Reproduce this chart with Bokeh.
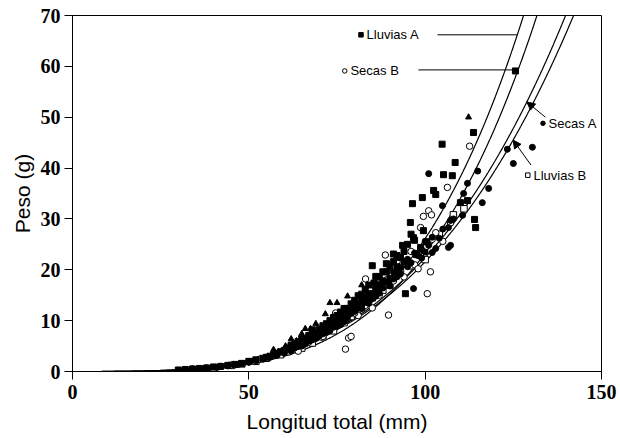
import numpy as np
from bokeh.plotting import figure
from bokeh.models import Range1d, FixedTicker, Label, Arrow, NormalHead
from bokeh.embed import file_html
from bokeh.resources import INLINE

# Length-weight relations W = a * L^b for each season/locality group
grupos = ["Lluvias A", "Secas B", "Secas A", "Lluvias B"]
coef_a = [2.616e-7, 2.327e-7, 3.550e-6, 4.306e-6]
coef_b = [4.0, 4.0, 3.4, 3.35]

x_ticks = [0, 50, 100, 150]
y_ticks = [0, 10, 20, 30, 40, 50, 60, 70]

# Observed specimens: (longitud total mm, peso g)
lluvias_a = [
    (30, 0.3), (32, 0.4), (34, 0.5), (36, 0.6), (38, 0.7), (40, 0.9), (42, 1.0),
    (44, 1.2), (46, 1.4), (48, 1.6), (50, 2.0), (52, 2.3), (54, 2.6), (55, 2.8),
    (57, 3.3), (58, 3.6), (60, 4.1), (61, 4.6), (62, 4.9), (63, 5.3), (64, 5.9),
    (65, 6.4), (66, 6.2), (67, 7.1), (68, 7.6), (69, 7.3), (70, 8.3), (71, 8.0),
    (72, 9.4), (73, 8.9), (74, 10.6), (75, 9.8), (76, 11.7), (77, 10.9), (78, 12.4),
    (79, 13.3), (80, 12.6), (81, 14.9), (82, 13.8), (83, 16.1), (84, 15.3), (85, 20.8),
    (85.5, 17.4), (86, 18.7), (87, 17.0), (88, 19.6), (89, 21.2), (90, 18.3), (91, 23.1),
    (92, 20.6), (93, 22.4), (93.6, 24.8), (94.4, 15.3), (95.8, 29.3), (96.4, 33.0),
    (96.7, 26.3), (97.5, 23.0), (98.7, 24.4), (99.2, 34.2), (99.5, 27.7), (100.5, 25.5),
    (102.4, 35.6), (103, 34.8), (104.8, 44.7), (105.2, 38.7), (107.7, 38.5), (108.5, 41.1),
    (110, 33.2), (112, 33.6), (113.7, 47.0), (114, 29.9), (114.3, 28.3), (125.6, 59.1),
    (56, 3.0), (59, 3.9), (62, 5.2), (64, 5.4), (65, 5.8), (67, 6.6), (68, 8.2),
    (70, 7.6), (71, 9.0), (72, 8.6), (73, 10.0), (74, 9.6), (75, 11.0), (76, 10.4),
    (77, 12.4), (78, 11.6), (79, 12.2), (80, 14.0), (81, 13.2), (82, 15.2), (83, 14.6),
    (84, 17.0), (86, 16.2), (87, 18.6), (88, 17.8), (89, 19.6), (90, 20.6), (91, 21.6),
    (92, 22.8), (94, 23.6), (95, 25.0), (96, 27.0), (97, 25.8),
]
secas_b = [
    (34, 0.5), (38, 0.7), (42, 1.0), (46, 1.3), (50, 1.9), (53, 2.4), (56, 2.9),
    (58, 3.4), (60, 3.8), (62, 4.4), (64, 4.0), (65, 5.2), (67, 5.8), (68, 6.4),
    (70, 7.2), (71, 6.9), (72, 8.2), (73, 8.6), (74.6, 11.5), (75, 9.4), (76, 10.0),
    (77.4, 4.4), (78.3, 6.6), (79, 6.9), (80, 12.1), (81, 11.0), (82, 13.5), (83.1, 18.2),
    (84, 14.2), (85, 12.5), (86, 16.4), (87, 15.0), (88.7, 22.9), (89.6, 11.1), (90, 19.2),
    (91, 17.8), (92, 21.6), (94, 18.6), (95, 22.0), (96, 23.6), (97, 21.0), (98, 20.2),
    (98.7, 28.3), (99.5, 30.5), (100.6, 15.3), (101, 31.6), (101.5, 19.6), (101.8, 30.8),
    (102, 26.0), (103, 27.3), (105, 25.6), (106.3, 36.2), (107.2, 29.2), (112.6, 44.3),
    (66, 6.2), (69, 6.8), (74, 9.0), (77, 10.8), (80, 11.5), (83, 13.0), (85, 15.2),
    (87, 17.2), (89, 18.0), (93, 20.5),
]
secas_a = [
    (38, 0.6), (41, 0.8), (44, 1.1), (47, 1.4), (50, 1.8), (52, 2.1), (54, 2.4),
    (56, 2.8), (58, 3.2), (60, 3.6), (62, 4.0), (63, 4.6), (64, 4.9), (66, 5.4),
    (67, 6.0), (69, 6.5), (70, 7.0), (72, 7.8), (73, 8.3), (75, 9.1), (76, 9.8),
    (77, 10.3), (78, 10.6), (80, 11.8), (81, 12.4), (82, 13.0), (84, 14.2), (85, 15.3),
    (86, 15.6), (87, 16.2), (88, 17.3), (89, 17.6), (90, 18.0), (91, 19.5), (92, 19.8),
    (93, 20.4), (94, 21.5), (95, 22.0), (96.7, 16.3), (97, 23.3), (99, 22.3), (100, 25.6),
    (101, 38.9), (102, 26.4), (103, 24.2), (104.9, 32.6), (105, 28.0), (106.6, 24.4),
    (106.6, 28.3), (107.2, 24.8), (107.2, 29.7), (108, 30.0), (110.6, 30.7), (110.9, 35.0),
    (112, 37.0), (114.9, 39.4), (116.2, 33.2), (118, 36.0), (123.3, 43.7), (125, 40.9),
    (130.4, 44.1),
    (65, 5.0), (66, 5.9), (68, 6.2), (69, 7.2), (70, 7.5), (71, 7.4), (72, 8.4),
    (73, 8.0), (74, 8.7), (75, 9.6), (76, 9.2), (77, 9.8), (78, 11.2), (79, 11.4),
    (80, 12.6), (82, 12.4), (83, 13.6), (84, 13.4), (85, 14.4), (86, 14.8), (87, 15.4),
    (88, 16.4), (90, 16.8), (91, 18.2), (92, 18.6), (93, 19.2), (95, 20.6), (96, 21.4),
    (98, 22.8), (99, 24.0), (100, 23.5), (101, 24.8), (102, 23.4), (104, 26.2),
]
lluvias_b = [
    (40, 0.7), (45, 1.2), (48, 1.5), (52, 2.0), (55, 2.6), (59, 3.3), (61, 3.9),
    (65, 4.6), (68, 5.6), (71, 6.8), (74, 8.0), (77, 9.6), (79, 10.8), (82, 12.6),
    (85, 14.5), (88, 16.0), (90, 17.0), (93, 19.4), (96, 20.8), (98, 23.0), (100, 22.0),
    (104, 27.0), (108, 30.8), (111, 32.0),
]
triangulos = [
    (57, 4.3), (60.4, 5.0), (62, 6.4), (63.5, 6.0), (65, 7.4), (66, 8.4), (66.6, 7.0),
    (67.5, 8.4), (69, 9.4), (71.7, 11.3), (73, 13.5), (75, 13.5),
    (78, 14.8), (82, 17.0), (112.3, 50.0),
]

# Annotation placement (text start, vertical centre) and leader/arrow anchors
etiqueta_L = [83.4, 78.8, 135.0, 130.7]
etiqueta_W = [66.2, 59.1, 48.8, 38.6]
guia_L0 = [103.5, 98.1, 134.1, 130.0]
guia_W0 = [66.2, 59.3, 50.0, 40.6]
guia_W1 = [66.2, 59.3, 53.0, 45.5]

estilos = [
    dict(marker="square", size=6, fill_color="black", line_color="black"),
    dict(marker="circle", size=6.5, fill_color="white", line_color="black", line_width=1),
    dict(marker="circle", size=6, fill_color="black", line_color="black"),
    dict(marker="square", size=6.5, fill_color="white", line_color="black", line_width=1),
]

p = figure(width=620, height=438, x_range=Range1d(0, 150), y_range=Range1d(0, 70),
           output_backend="svg", toolbar_location=None,
           min_border_left=72, min_border_right=19, min_border_top=15,
           min_border_bottom=67)
p.background_fill_color = "white"
p.border_fill_color = "white"
p.outline_line_color = "black"
p.outline_line_width = 1
p.grid.visible = False

p.xaxis.ticker = FixedTicker(ticks=x_ticks)
p.yaxis.ticker = FixedTicker(ticks=y_ticks)
p.xaxis.axis_label = "Longitud total (mm)"
p.yaxis.axis_label = "Peso (g)"
for ax in (p.xaxis[0], p.yaxis[0]):
    ax.major_label_text_font = "Liberation Serif"
    ax.major_label_text_font_style = "bold"
    ax.major_label_text_font_size = "20px"
    ax.major_label_text_color = "black"
    ax.major_tick_in = 0
    ax.major_tick_out = 8
    ax.minor_tick_in = 0
    ax.minor_tick_out = 0
    ax.axis_line_color = "black"
    ax.major_tick_line_color = "black"
    ax.axis_label_text_font = "Liberation Sans"
    ax.axis_label_text_font_style = "normal"
    ax.axis_label_text_font_size = "21px"
    ax.axis_label_text_color = "black"
p.xaxis.major_label_standoff = 5
p.xaxis.axis_label_standoff = 8
p.yaxis.major_label_standoff = 4
p.yaxis.axis_label_standoff = 4

# Fitted curves
L = np.linspace(0.0, 150.0, 1201)
for a, b in zip(coef_a, coef_b):
    p.line(L, a * L ** b, line_color="black", line_width=1.2)

# Specimens
for datos, est in zip([lluvias_b, secas_b, lluvias_a, secas_a],
                      [estilos[3], estilos[1], estilos[0], estilos[2]]):
    p.scatter([d[0] for d in datos], [d[1] for d in datos], **est)
p.scatter([d[0] for d in triangulos], [d[1] for d in triangulos],
          marker="triangle", size=6, fill_color="black", line_color="black")

# Curve labels with leader lines / arrows
for i, nombre in enumerate(grupos):
    a, b = coef_a[i], coef_b[i]
    clave = dict(estilos[i])
    clave["size"] = 4.5
    p.scatter([etiqueta_L[i] - 1.6], [etiqueta_W[i]], **clave)
    p.add_layout(Label(x=etiqueta_L[i], y=etiqueta_W[i], text=nombre,
                       text_font="Liberation Sans", text_font_size="13px",
                       text_baseline="middle", text_align="left", text_color="black"))
    L_fin = (guia_W1[i] / a) ** (1.0 / b)
    if i < 2:
        p.line([guia_L0[i], L_fin], [guia_W0[i], guia_W1[i]], line_color="black", line_width=1)
    else:
        p.add_layout(Arrow(end=NormalHead(size=8, fill_color="black", line_color="black"),
                           x_start=guia_L0[i], y_start=guia_W0[i],
                           x_end=L_fin, y_end=guia_W1[i],
                           line_color="black", line_width=1))

open("out.html", "w").write(file_html(p, INLINE))
